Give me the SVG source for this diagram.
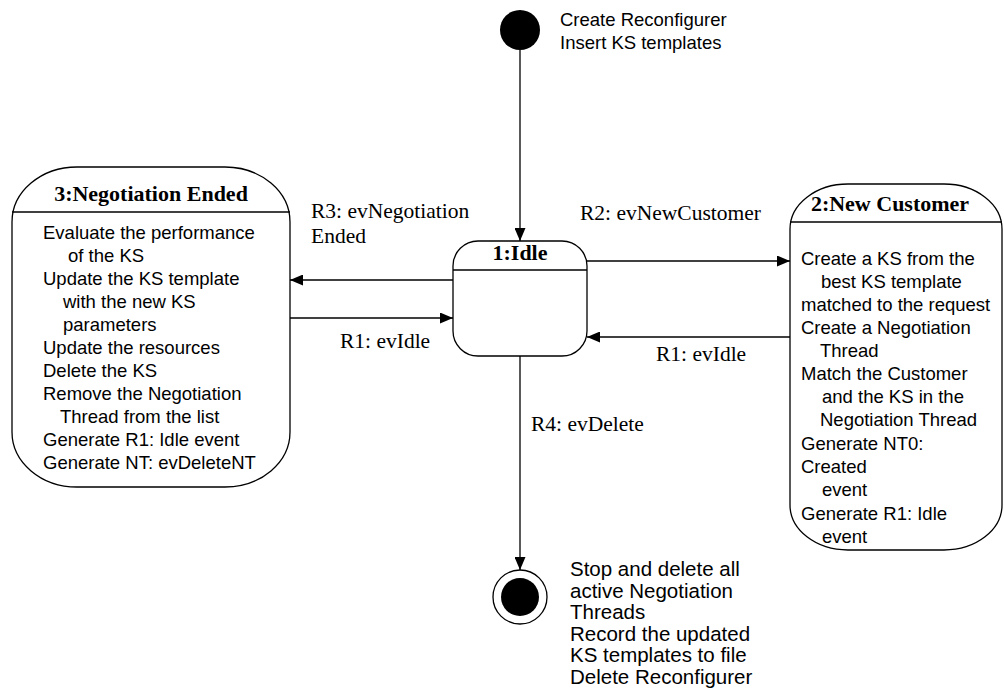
<svg xmlns="http://www.w3.org/2000/svg" width="1004" height="688" viewBox="0 0 1004 688">
  <style>
    .state { fill: #ffffff; stroke: #000000; stroke-width: 1.3; }
    .sep { stroke: #000000; stroke-width: 1.3; fill: none; }
    .title { font-family: "Liberation Serif", "Times New Roman", serif; font-weight: bold; font-size: 22px; fill: #000000; text-anchor: middle; }
    .body { font-family: "Liberation Sans", Arial, sans-serif; font-size: 18.5px; fill: #000000; }
    .note { font-family: "Liberation Sans", Arial, sans-serif; font-size: 20.5px; fill: #000000; }
    .label { font-family: "Liberation Serif", "Times New Roman", serif; font-size: 21.5px; fill: #000000; }
    .edge { stroke: #000000; stroke-width: 1.3; fill: none; marker-end: url(#arrow); }
  </style>
  <defs>
    <marker id="arrow" markerUnits="userSpaceOnUse" markerWidth="13" markerHeight="11" refX="13" refY="5.5" orient="auto">
      <path d="M0,0 L13,5.5 L0,11 z" fill="#000000"/>
    </marker>
  </defs>

  <rect width="1004" height="688" fill="#ffffff"/>

  <!-- transitions -->
  <g id="connectors">
    <line class="edge" x1="520" y1="50" x2="520" y2="241"/>
    <line class="edge" x1="453" y1="280" x2="290" y2="280"/>
    <line class="edge" x1="290" y1="318" x2="453" y2="318"/>
    <line class="edge" x1="587" y1="261" x2="790" y2="261"/>
    <line class="edge" x1="790" y1="337" x2="587" y2="337"/>
    <line class="edge" x1="520" y1="356" x2="520" y2="570"/>
    <text class="label" x="311" y="218">R3: evNegotiation</text>
    <text class="label" x="311" y="243">Ended</text>
    <text class="label" x="580" y="220">R2: evNewCustomer</text>
    <text class="label" x="340" y="348">R1: evIdle</text>
    <text class="label" x="656" y="361">R1: evIdle</text>
    <text class="label" x="531" y="431">R4: evDelete</text>
  </g>

  <!-- initial pseudo-state -->
  <g id="initial">
    <circle cx="520" cy="30" r="20" fill="#000000"/>
    <text class="body" x="560" y="26">Create Reconfigurer</text>
    <text class="body" x="560" y="49">Insert KS templates</text>
  </g>

  <!-- state 1 -->
  <g id="state-idle">
    <rect class="state" x="453" y="241" width="134" height="115" rx="25" ry="25"/>
    <line class="sep" x1="453" y1="270" x2="587" y2="270"/>
    <text class="title" x="520" y="260">1:Idle</text>
  </g>

  <!-- state 3 -->
  <g id="state-negotiation-ended">
    <rect class="state" x="12" y="167" width="278" height="320" rx="65" ry="55"/>
    <line class="sep" x1="12" y1="212" x2="290" y2="212"/>
    <text class="title" x="151" y="201">3:Negotiation Ended</text>
    <text class="body" x="43" y="239">Evaluate the performance</text>
    <text class="body" x="68" y="262">of the KS</text>
    <text class="body" x="43" y="285">Update the KS template</text>
    <text class="body" x="63" y="308">with the new KS</text>
    <text class="body" x="63" y="331">parameters</text>
    <text class="body" x="43" y="354">Update the resources</text>
    <text class="body" x="43" y="377">Delete the KS</text>
    <text class="body" x="43" y="400">Remove the Negotiation</text>
    <text class="body" x="60" y="423">Thread from the list</text>
    <text class="body" x="43" y="446">Generate R1: Idle event</text>
    <text class="body" x="43" y="469">Generate NT: evDeleteNT</text>
  </g>

  <!-- state 2 -->
  <g id="state-new-customer">
    <rect class="state" x="790" y="184" width="212" height="366" rx="58" ry="45"/>
    <line class="sep" x1="790" y1="222" x2="1002" y2="222"/>
    <text class="title" x="890" y="211">2:New Customer</text>
    <text class="body" x="801" y="265">Create a KS from the</text>
    <text class="body" x="821" y="288">best KS template</text>
    <text class="body" x="801" y="311">matched to the request</text>
    <text class="body" x="801" y="334">Create a Negotiation</text>
    <text class="body" x="820" y="357">Thread</text>
    <text class="body" x="801" y="380">Match the Customer</text>
    <text class="body" x="822" y="403">and the KS in the</text>
    <text class="body" x="820" y="426">Negotiation Thread</text>
    <text class="body" x="801" y="450">Generate NT0:</text>
    <text class="body" x="801" y="473">Created</text>
    <text class="body" x="822" y="496">event</text>
    <text class="body" x="801" y="520">Generate R1: Idle</text>
    <text class="body" x="822" y="543">event</text>
  </g>

  <!-- final state -->
  <g id="final">
    <circle cx="520" cy="597" r="27" fill="#ffffff" stroke="#000000" stroke-width="1.3"/>
    <circle cx="520" cy="597" r="19" fill="#000000"/>
    <text class="note" x="570" y="576">Stop and delete all</text>
    <text class="note" x="570" y="597.5">active Negotiation</text>
    <text class="note" x="570" y="619">Threads</text>
    <text class="note" x="570" y="640.5">Record the updated</text>
    <text class="note" x="570" y="662">KS templates to file</text>
    <text class="note" x="570" y="683.5">Delete Reconfigurer</text>
  </g>
</svg>
